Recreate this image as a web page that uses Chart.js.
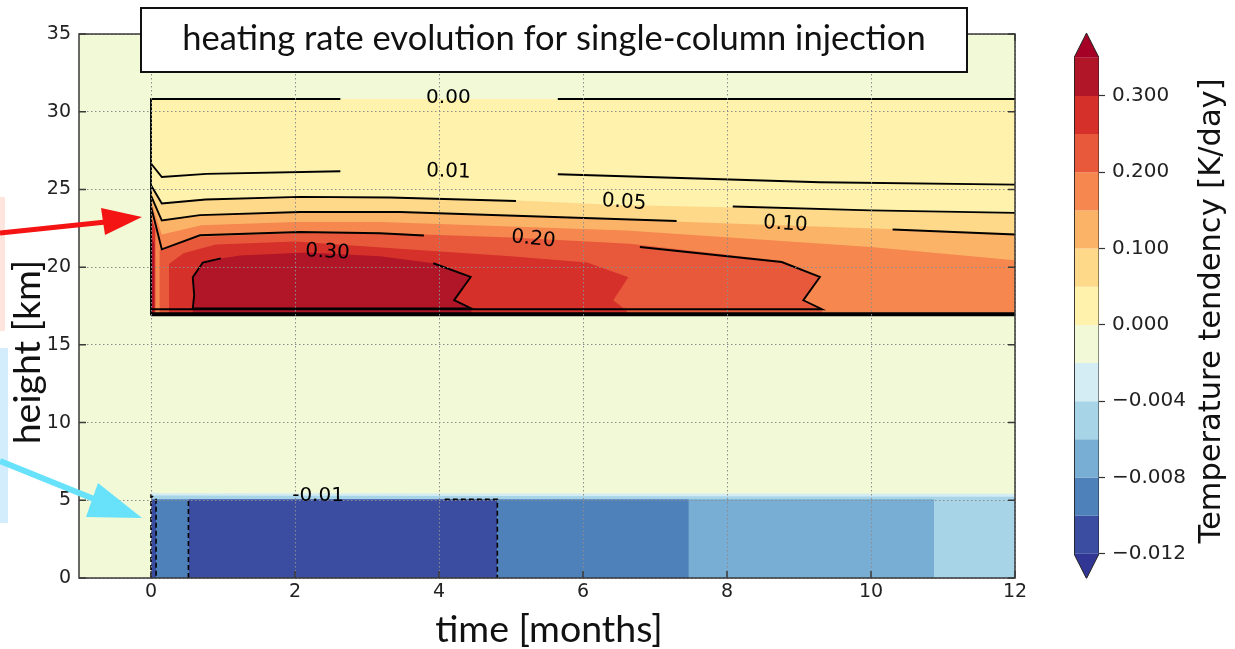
<!DOCTYPE html>
<html>
<head>
<meta charset="utf-8">
<script src="https://cdn.jsdelivr.net/npm/chart.js@4.4.1/dist/chart.umd.min.js"></script>
<style>
  html, body { margin: 0; padding: 0; background: #fff; }
  #wrap { position: relative; width: 1235px; height: 649px; overflow: hidden; }
  #plot { position: absolute; left: 0; top: 0; }
  #cbar { position: absolute; left: 1040px; top: 0; }
</style>
</head>
<body>
<div id="wrap">
  <canvas id="plot" width="1235" height="649"></canvas>
  <canvas id="cbar" width="195" height="649"></canvas>
</div>
<script>
// axes
const xRange = [-1, 12];
const yRange = [0, 35];
const xTicks = [0, 2, 4, 6, 8, 10, 12];
const yTicks = [0, 5, 10, 15, 20, 25, 30, 35];

// colour levels of the filled contours (K/day) and their colours
const levels = [-0.012, -0.010, -0.008, -0.006, -0.004, -0.002, 0.000, 0.05, 0.10, 0.15, 0.20, 0.25, 0.30, 0.35];
const levelColors = ['#3b4da0', '#4e80ba', '#78aed3', '#a8d4e8', '#d4ecf4', '#f1f9d7',
                     '#fef2ac', '#fed98a', '#fbb467', '#f5874f', '#e8593b', '#d5302a', '#b11528'];
const underColor = '#313695';
const overColor = '#a50026';
const cbarTickIdx = [0, 2, 4, 6, 8, 10, 12];

// heated layer: upper edge of each filled band [time, height]
const heatBase = 16.85;
const band000 = [[0, 30.82], [12, 30.82]];
const band005 = [[0, 25.3], [0.15, 24.15], [0.7, 24.4], [2.0, 24.55], [3.3, 24.5], [5.0, 24.3], [6.5, 24.0], [8.0, 23.85], [10.0, 23.6], [12, 23.45]];
const band010 = [[0, 24.6], [0.15, 23.0], [0.7, 23.35], [2.0, 23.55], [3.3, 23.55], [6.55, 23.05], [9.95, 22.5], [12, 22.18]];
const band015 = [[0, 24.2], [0.15, 22.1], [0.7, 22.7], [2.0, 22.9], [3.2, 22.9], [6.6, 22.35], [10.0, 21.3], [12, 20.44]];
const band020 = [[0.12, 21.1], [0.4, 21.6], [0.7, 21.95], [2.0, 22.2], [3.2, 22.2], [5.0, 21.9], [6.65, 21.5], [8.76, 20.4], [9.29, 19.4], [9.06, 17.87], [9.32, 17.29]];
const band025 = [[0.25, 20.2], [0.45, 20.9], [0.9, 21.45], [2.0, 21.65], [3.4, 21.2], [5.0, 20.7], [6.06, 20.3], [6.63, 19.35], [6.42, 17.87], [6.61, 17.2]];
const band030 = [[0.58, 17.34], [0.6, 18.2], [0.58, 19.35], [0.72, 20.3], [0.97, 20.56], [1.24, 20.75], [2.17, 20.95], [3.18, 20.7], [3.92, 20.25], [4.44, 19.37], [4.21, 17.88], [4.45, 17.34]];
const stripA = [[0, 23.3], [0.06, 22.4]];
const stripB = [[0, 22.0], [0.045, 21.5]];
const heatBands = [band000, band005, band010, band015, band020, band025, band030, stripA, stripB];
const heatBandIdx = [6, 7, 8, 9, 10, 11, 12, 11, 12];

// cooled layer: columns between time edges, and the light fringe on top
const coolTop = 5.06;
const coolEdges = [0, 0.07, 0.52, 4.81, 7.47, 10.875, 12];
const coolIdx = [0, 1, 0, 1, 2, 3];
const fringeA = [[0, 5.5], [0.1, 5.45], [12, 5.42]];
const fringeB = [[0, 5.3], [12, 5.22]];

// contour lines (segments)
const contour000 = [[[2.63, 30.82], [0, 30.82], [0, 16.95], [12, 16.95]], [[5.65, 30.82], [12, 30.82]]];
const contour001 = [[[0, 26.67], [0.15, 25.8], [0.77, 26.0], [2.63, 26.17]], [[5.65, 25.98], [9.29, 25.46], [12, 25.31]]];
const contour005 = [[[0, 25.27], [0.15, 24.1], [0.76, 24.35], [2.07, 24.52], [3.32, 24.48], [5.07, 24.26]], [[8.08, 23.9], [9.99, 23.65], [12, 23.49]]];
const contour010 = [[[0, 24.6], [0.15, 23.0], [0.68, 23.35], [2.07, 23.55], [3.46, 23.55], [7.3, 22.97]], [[10.3, 22.42], [12, 22.1]]];
const contour020 = [[[0, 23.9], [0.15, 21.15], [0.68, 22.05], [2.07, 22.26], [3.18, 22.18], [3.79, 22.04]],
                    [[6.79, 21.3], [8.76, 20.33], [9.29, 19.37], [9.06, 17.87], [9.32, 17.29], [0, 17.29]]];
const contour030 = [[[0.97, 20.56], [0.72, 20.3], [0.58, 19.35], [0.6, 18.2], [0.58, 17.34], [4.45, 17.34], [4.21, 17.88], [4.44, 19.37], [3.92, 20.25]]];
const contourNeg = [[[0, 0], [0, 5.3], [0.07, 5.06], [0.07, 0]], [[0.52, 0], [0.52, 5.06]], [[4.08, 5.06], [4.81, 5.06], [4.81, 0]]];
const baseLine = [[0, 16.97], [12, 16.97]];

// inline contour labels
const contourLabels = ['0.00', '0.01', '0.05', '0.10', '0.20', '0.30', '-0.01'];
const labelX = [4.13, 4.13, 6.57, 8.81, 5.31, 2.45, 2.32];
const labelY = [30.9, 26.14, 24.17, 22.76, 21.8, 20.96, 5.26];
const labelAngle = [0, 2, 4, 4, 6, 3, 0];

const titleText = 'heating rate evolution for single-column injection';
const xTitle = 'time [months]';
const yTitle = 'height [km]';
const cbarTitle = 'Temperature tendency [K/day]';

// helpers
function pts(list) {
    return list.map(p => ({ x: p[0], y: p[1] }));
}

function areaUnder(edge, base) {
    const first = edge[0];
    const last = edge[edge.length - 1];
    return pts(edge.concat([[last[0], base], [first[0], base], first]));
}

const datasets = [];

function addFill(data, color) {
    datasets.push({
        data: data, showLine: true, fill: 'shape', backgroundColor: color,
        borderColor: 'rgba(0,0,0,0)', borderWidth: 0, pointRadius: 0, tension: 0
    });
}

function addLine(data, width, dash) {
    datasets.push({
        data: data, showLine: true, fill: false, borderColor: '#000',
        borderWidth: width, borderDash: dash || [], pointRadius: 0, tension: 0
    });
}

// background (zero tendency everywhere)
addFill(areaUnder([[xRange[0], yRange[1]], [xRange[1], yRange[1]]], yRange[0]), levelColors[5]);

// heated layer
heatBands.forEach((b, i) => addFill(areaUnder(b, heatBase), levelColors[heatBandIdx[i]]));

// cooled layer
addFill(areaUnder(fringeA, 0), levelColors[4]);
addFill(areaUnder(fringeB, 0), levelColors[3]);
coolIdx.forEach((c, i) => {
    addFill(areaUnder([[coolEdges[i], coolTop], [coolEdges[i + 1], coolTop]], 0), levelColors[c]);
});

// contour lines
[contour000, contour001, contour005, contour010, contour020, contour030].forEach(c => {
    c.forEach(seg => addLine(pts(seg), 1.9));
});
contourNeg.forEach(seg => addLine(pts(seg), 1.6, [5, 3]));
addLine(pts(baseLine), 4);

// first dataset painted first
datasets.forEach((d, i) => { d.order = datasets.length - i; });

const tickFont = { family: "'DejaVu Sans', sans-serif", size: 19 };

const overlay = {
    id: 'overlay',
    afterDraw(chart) {
        const ctx = chart.ctx;
        const { left, right, top, bottom } = chart.chartArea;
        const xs = chart.scales.x;
        const ys = chart.scales.y;
        ctx.save();

        // contour labels
        ctx.font = "20px 'DejaVu Sans'";
        ctx.fillStyle = '#000';
        ctx.textAlign = 'center';
        ctx.textBaseline = 'middle';
        contourLabels.forEach((t, i) => {
            ctx.save();
            ctx.translate(xs.getPixelForValue(labelX[i]), ys.getPixelForValue(labelY[i]));
            ctx.rotate(labelAngle[i] * Math.PI / 180);
            ctx.fillText(t, 0, 0);
            ctx.restore();
        });

        // frame and inward ticks
        ctx.strokeStyle = '#3a3a3a';
        ctx.lineWidth = 1.5;
        ctx.strokeRect(left, top, right - left, bottom - top);
        ctx.beginPath();
        xTicks.forEach(v => {
            const px = xs.getPixelForValue(v);
            ctx.moveTo(px, bottom); ctx.lineTo(px, bottom - 7);
            ctx.moveTo(px, top); ctx.lineTo(px, top + 7);
        });
        yTicks.forEach(v => {
            const py = ys.getPixelForValue(v);
            ctx.moveTo(left, py); ctx.lineTo(left + 7, py);
            ctx.moveTo(right, py); ctx.lineTo(right - 7, py);
        });
        ctx.stroke();

        // axis titles
        ctx.fillStyle = '#111';
        ctx.font = '37.5px Lato';
        ctx.textAlign = 'center';
        ctx.textBaseline = 'alphabetic';
        ctx.fillText(xTitle, 549, 642);
        ctx.save();
        ctx.translate(40, 352);
        ctx.rotate(-Math.PI / 2);
        ctx.fillText(yTitle, 0, 0);
        ctx.restore();

        // title box
        ctx.fillStyle = '#fff';
        ctx.fillRect(141, 8, 826, 64);
        ctx.strokeStyle = '#111';
        ctx.lineWidth = 2;
        ctx.strokeRect(141, 8, 826, 64);
        ctx.fillStyle = '#111';
        ctx.font = '34.5px Lato';
        ctx.fillText(titleText, 554, 50);

        // slide annotations: side boxes and arrows
        ctx.fillStyle = '#fde4dd';
        ctx.fillRect(0, 197, 5, 134);
        ctx.fillStyle = '#d4edfc';
        ctx.fillRect(0, 348, 8, 175);

        ctx.strokeStyle = '#f41414';
        ctx.fillStyle = '#f41414';
        ctx.lineWidth = 5;
        ctx.beginPath(); ctx.moveTo(0, 233); ctx.lineTo(106, 222); ctx.stroke();
        ctx.beginPath(); ctx.moveTo(101, 208); ctx.lineTo(142, 217); ctx.lineTo(105, 235); ctx.closePath(); ctx.fill();

        ctx.strokeStyle = '#68e2fb';
        ctx.fillStyle = '#68e2fb';
        ctx.lineWidth = 6;
        ctx.beginPath(); ctx.moveTo(0, 461); ctx.lineTo(94, 499); ctx.stroke();
        ctx.beginPath(); ctx.moveTo(98, 483); ctx.lineTo(142, 518); ctx.lineTo(86, 517); ctx.closePath(); ctx.fill();

        ctx.restore();
    }
};

new Chart(document.getElementById('plot'), {
    type: 'scatter',
    data: { datasets: datasets },
    options: {
        responsive: false,
        animation: false,
        layout: { padding: { left: 0, top: 34, right: 220, bottom: 0 } },
        plugins: { legend: { display: false }, tooltip: { enabled: false } },
        scales: {
            x: {
                type: 'linear', min: xRange[0], max: xRange[1],
                afterBuildTicks: s => { s.ticks = xTicks.map(v => ({ value: v })); },
                afterFit: s => { s.height = 71; },
                grid: { color: '#8c8c8c', lineWidth: 1, drawTicks: false, z: 1 },
                border: { display: false, dash: [1.5, 2.5] },
                ticks: { font: tickFont, color: '#222', padding: 3, maxRotation: 0 }
            },
            y: {
                type: 'linear', min: yRange[0], max: yRange[1],
                afterBuildTicks: s => { s.ticks = yTicks.map(v => ({ value: v })); },
                afterFit: s => { s.width = 79; },
                grid: { color: '#8c8c8c', lineWidth: 1, drawTicks: false, z: 1 },
                border: { display: false, dash: [1.5, 2.5] },
                ticks: { font: tickFont, color: '#222', padding: 8 }
            }
        }
    },
    plugins: [overlay]
});

// colour bar
const extendLen = 0.65;
const cbarSets = [];
levelColors.forEach((c, i) => {
    cbarSets.push({
        data: areaUnder([[0, i + 1], [1, i + 1]], i), showLine: true, fill: 'shape',
        backgroundColor: c, borderColor: 'rgba(0,0,0,0)', borderWidth: 0, pointRadius: 0
    });
});
const nSeg = levelColors.length;
cbarSets.push({
    data: pts([[0, 0], [1, 0], [0.5, -extendLen], [0, 0]]), showLine: true, fill: 'shape',
    backgroundColor: underColor, borderColor: 'rgba(0,0,0,0)', borderWidth: 0, pointRadius: 0
});
cbarSets.push({
    data: pts([[0, nSeg], [1, nSeg], [0.5, nSeg + extendLen], [0, nSeg]]), showLine: true, fill: 'shape',
    backgroundColor: overColor, borderColor: 'rgba(0,0,0,0)', borderWidth: 0, pointRadius: 0
});
cbarSets.push({
    data: pts([[0, 0], [0.5, -extendLen], [1, 0], [1, nSeg], [0.5, nSeg + extendLen], [0, nSeg], [0, 0]]),
    showLine: true, fill: false, borderColor: '#222', borderWidth: 1, pointRadius: 0
});
cbarSets.forEach((d, i) => { d.order = cbarSets.length - i; });

function fmtLevel(v) {
    return (v < 0 ? '\u2212' : '') + Math.abs(v).toFixed(3);
}

const cbarLabel = {
    id: 'cbarLabel',
    afterDraw(chart) {
        const ctx = chart.ctx;
        ctx.save();
        ctx.fillStyle = '#111';
        ctx.font = "30.5px 'DejaVu Sans'";
        ctx.textAlign = 'center';
        ctx.textBaseline = 'alphabetic';
        ctx.translate(180, 311);
        ctx.rotate(-Math.PI / 2);
        ctx.fillText(cbarTitle, 0, 0);
        ctx.restore();
    }
};

new Chart(document.getElementById('cbar'), {
    type: 'scatter',
    data: { datasets: cbarSets },
    options: {
        responsive: false,
        animation: false,
        layout: { padding: { left: 34, top: 33, right: 0, bottom: 70.4 } },
        plugins: { legend: { display: false }, tooltip: { enabled: false } },
        scales: {
            x: { type: 'linear', min: 0, max: 1, display: false },
            y: {
                type: 'linear', position: 'right', min: -extendLen, max: nSeg + extendLen,
                afterBuildTicks: s => { s.ticks = cbarTickIdx.map(v => ({ value: v })); },
                afterFit: s => { s.width = 136; },
                grid: { drawOnChartArea: false, drawTicks: true, tickLength: 6, tickColor: '#333', tickWidth: 1.2 },
                border: { display: false },
                ticks: { font: { family: "'DejaVu Sans', sans-serif", size: 20 }, color: '#222', padding: 7,
                         callback: v => fmtLevel(levels[v]) }
            }
        }
    },
    plugins: [cbarLabel]
});
</script>
</body>
</html>
